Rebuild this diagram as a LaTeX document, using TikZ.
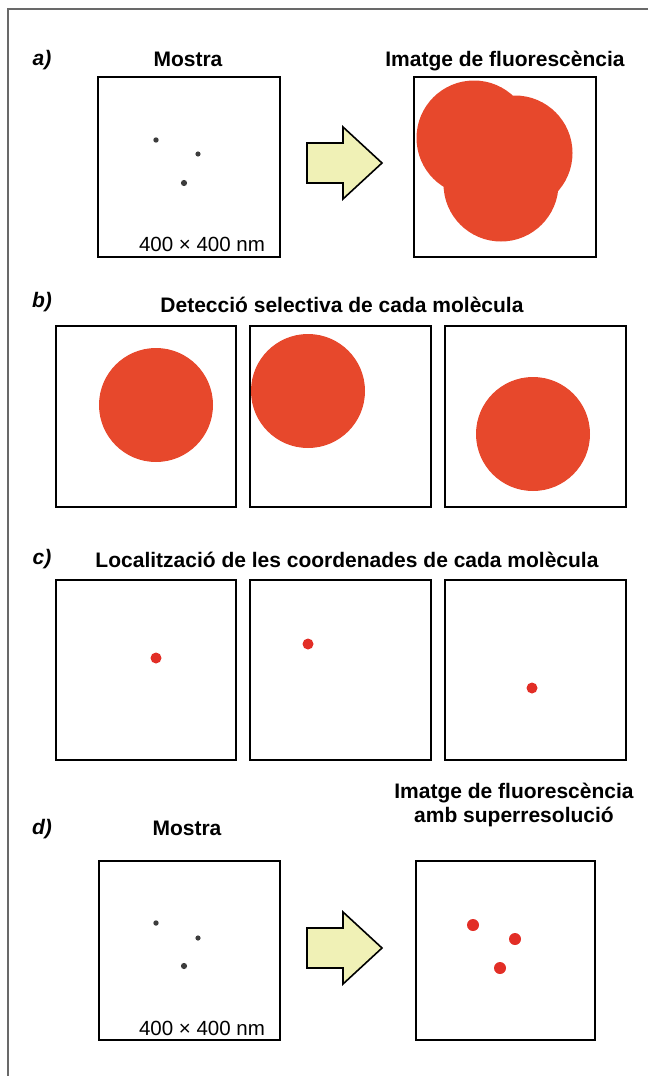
\documentclass[tikz,border=0pt]{standalone}
\usepackage{fontspec}
\setmainfont{Liberation Sans}
\definecolor{blobred}{RGB}{231,72,44}
\definecolor{dotred}{RGB}{226,46,38}
\definecolor{arrowfill}{RGB}{240,241,182}
\definecolor{framegray}{RGB}{105,105,105}
\definecolor{molgray}{RGB}{60,60,60}
\begin{document}
\begin{tikzpicture}[x=1pt,y=-1pt,
  panel/.style={draw=black,line width=2pt,inner sep=0pt},
  ttl/.style={font=\fontsize{21}{25}\selectfont\bfseries,anchor=base,inner sep=0pt,align=center},
  lbl/.style={font=\fontsize{21}{25}\selectfont\bfseries\itshape,anchor=base,inner sep=0pt},
  scale text/.style={font=\fontsize{20.5}{24}\selectfont,anchor=base,inner sep=0pt},
  blockarrow/.style={draw=black,line width=1.6pt,fill=arrowfill,line join=miter},
  mol/.style={fill=molgray,draw=none},
  spot/.style={fill=dotred,draw=none},
  psf/.style={fill=blobred,draw=none}]
\useasboundingbox (0,0) rectangle (648,1076);
% outer frame (cropped)
\draw[framegray,line width=1.5pt] (648,9) -- (8,9) -- (8,1076);

% ---------- a ----------
\node[lbl] (la) at (42,65) {a)};
\node[ttl] (ta1) at (188,66.5) {Mostra};
\node[ttl] (ta2) at (505,66.5) {Imatge de fluorescència};
\fill[psf] (474,138) circle (57.5) (515,153) circle (57.5) (501,184) circle (57.5);
\node[panel,minimum width=182pt,minimum height=180pt] (a1) at (189,167) {};
\node[panel,minimum width=182pt,minimum height=180pt] (a2) at (505,167) {};
\fill[mol] (156,140) circle (2.7) (198,154) circle (2.6) (184,183) circle (3.1);
\node[scale text] (sa) at (202,251.5) {400 × 400 nm};
\draw[blockarrow] (307,143) -- (343,143) -- (343,127) -- (382,163) -- (343,199) -- (343,183) -- (307,183) -- cycle;

% ---------- b ----------
\node[lbl] (lb) at (42,307) {b)};
\node[ttl] (tb) at (342,312.5) {Detecció selectiva de cada molècula};
\fill[psf] (156,405) circle (57) (308,391) circle (57) (533,434) circle (57);
\node[panel,minimum width=180pt,minimum height=181pt] (b1) at (146,416.5) {};
\node[panel,minimum width=181pt,minimum height=181pt] (b2) at (340.5,416.5) {};
\node[panel,minimum width=181pt,minimum height=181pt] (b3) at (535.5,416.5) {};

% ---------- c ----------
\node[lbl] (lc) at (42,564) {c)};
\node[ttl] (tc) at (347,567.5) {Localització de les coordenades de cada molècula};
\node[panel,minimum width=180pt,minimum height=180pt] (c1) at (146,670) {};
\node[panel,minimum width=181pt,minimum height=180pt] (c2) at (340.5,670) {};
\node[panel,minimum width=181pt,minimum height=180pt] (c3) at (535.5,670) {};
\fill[spot] (156,658) circle (5.5) (308,644) circle (5.5) (532,688) circle (5.5);

% ---------- d ----------
\node[lbl] (ld) at (42,834) {d)};
\node[ttl] (td1) at (187,835.5) {Mostra};
\node[ttl] (td2) at (514,822.5) {Imatge de fluorescència\\[-0.5pt]amb superresolució};
\node[panel,minimum width=181pt,minimum height=179pt] (d1) at (189.5,950.5) {};
\node[panel,minimum width=179pt,minimum height=179pt] (d2) at (505.5,950.5) {};
\fill[mol] (156,923) circle (2.7) (198,938) circle (2.6) (184,966) circle (3.1);
\node[scale text] (sd) at (202,1035.5) {400 × 400 nm};
\fill[spot] (473,925) circle (6) (515,939) circle (6) (500,968) circle (6);
\draw[blockarrow] (307,928) -- (343,928) -- (343,912) -- (382,948) -- (343,984) -- (343,968) -- (307,968) -- cycle;
\end{tikzpicture}
\end{document}
